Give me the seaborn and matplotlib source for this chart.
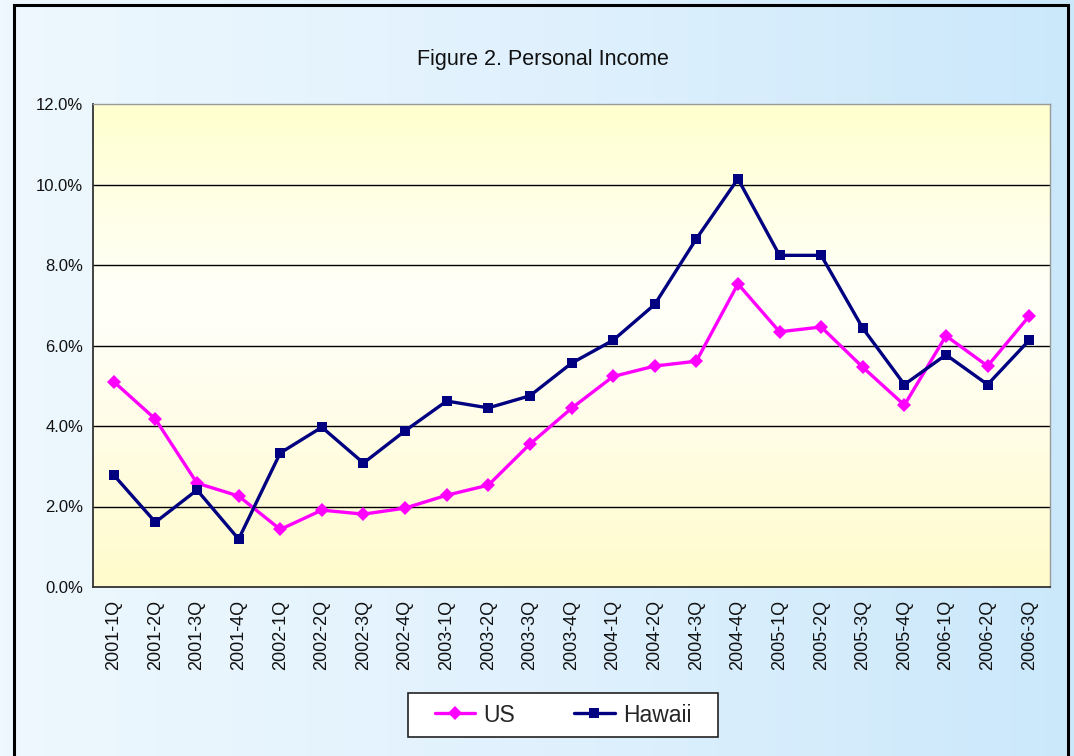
import numpy as np
import pandas as pd
import matplotlib
matplotlib.use("Agg")
import matplotlib.pyplot as plt
import seaborn as sns
from matplotlib.colors import LinearSegmentedColormap
from matplotlib.patches import Rectangle
from matplotlib.ticker import FixedLocator, FuncFormatter
from matplotlib.lines import Line2D

quarters = ["2001-1Q", "2001-2Q", "2001-3Q", "2001-4Q",
            "2002-1Q", "2002-2Q", "2002-3Q", "2002-4Q",
            "2003-1Q", "2003-2Q", "2003-3Q", "2003-4Q",
            "2004-1Q", "2004-2Q", "2004-3Q", "2004-4Q",
            "2005-1Q", "2005-2Q", "2005-3Q", "2005-4Q",
            "2006-1Q", "2006-2Q", "2006-3Q"]
us = [5.1, 4.17, 2.58, 2.26, 1.43, 1.91, 1.81, 1.96, 2.28, 2.53, 3.55, 4.44,
      5.23, 5.49, 5.61, 7.53, 6.34, 6.46, 5.46, 4.52, 6.24, 5.49, 6.73]
hawaii = [2.78, 1.61, 2.41, 1.19, 3.33, 3.97, 3.08, 3.88, 4.62, 4.45, 4.75, 5.56,
          6.13, 7.02, 8.65, 10.14, 8.24, 8.24, 6.43, 5.03, 5.77, 5.03, 6.13]
series_names = ["US", "Hawaii"]
yticks = [0, 2, 4, 6, 8, 10, 12]
title = "Figure 2. Personal Income"

df = pd.DataFrame({
    "idx": list(range(len(quarters))) * 2,
    "value": us + hawaii,
    "series": [series_names[0]] * len(us) + [series_names[1]] * len(hawaii),
})

sns.set_style("white")
plt.rcParams["font.family"] = ["Liberation Sans", "DejaVu Sans"]

W, H = 1074, 756
fig = plt.figure(figsize=(W / 100, H / 100), dpi=100)

# figure background gradient
bg = fig.add_axes([0, 0, 1, 1], zorder=-10)
bg_cmap = LinearSegmentedColormap.from_list("bg", ["#eef8fe", "#e0f1fd", "#cbe8fb"])
bg.imshow(np.linspace(0, 1, 256)[None, :], aspect="auto", cmap=bg_cmap,
          extent=[0, 1, 0, 1], transform=bg.transAxes)
bg.set_axis_off()
bg.add_patch(Rectangle((14 / W, -0.1), (1068 - 14) / W, (H - 5) / H + 0.1,
                       transform=bg.transAxes, fill=False, lw=2.2, ec="black"))
# legend box
bg.add_patch(Rectangle((408 / W, (H - 737) / H), (718 - 408) / W, 44 / H,
                       transform=bg.transAxes, fc="white", lw=1.2, ec="#222222"))

left, right, top, bottom = 93, 1050, 104, 587
ax = fig.add_axes([left / W, (H - bottom) / H, (right - left) / W, (bottom - top) / H])

# plot area gradient (yellow - white - yellow)
pa_cmap = LinearSegmentedColormap.from_list(
    "pa", [(0, "#fffbcc"), (0.55, "#fffff8"), (0.62, "#fffff8"), (1, "#ffffcf")])
ax.imshow(np.linspace(0, 1, 256)[:, None], aspect="auto", cmap=pa_cmap, origin="lower",
          extent=[0, 1, 0, 1], transform=ax.transAxes, zorder=0)

sns.lineplot(data=df, x="idx", y="value", hue="series", style="series",
             markers={"US": "D", "Hawaii": "s"}, dashes=False,
             palette={"US": "#ff00ff", "Hawaii": "#000080"},
             linewidth=2.4, markersize=7, markeredgewidth=0,
             ax=ax, zorder=3, legend=False)

ax.set_xlim(-0.5, len(quarters) - 0.5)
ax.set_ylim(0, 12)
for v in yticks[1:-1]:
    ax.axhline(v, color="black", lw=1.0, zorder=1)

ax.set_yticks(yticks)
ax.yaxis.set_major_formatter(FuncFormatter(lambda v, p: f"{v:.1f}%"))
ax.xaxis.set_major_locator(FixedLocator(np.arange(-0.5, len(quarters), 1.0)))
ax.xaxis.set_major_formatter(FuncFormatter(lambda v, p: ""))
ax.set_xticks(range(len(quarters)), minor=True)
ax.set_xticklabels(quarters, minor=True, rotation=90, fontsize=13, color="#111111")
ax.tick_params(axis="x", which="minor", length=0, pad=9)
ax.tick_params(axis="x", which="major", length=5, width=1, color="#333333", direction="out")
ax.tick_params(axis="y", length=5, width=1, color="#333333", labelsize=12, pad=2,
               labelcolor="#111111")
ax.set_xlabel("")
ax.set_ylabel("")
for s in ["left", "bottom"]:
    ax.spines[s].set_color("#333333")
    ax.spines[s].set_linewidth(1.3)
for s in ["top", "right"]:
    ax.spines[s].set_color("#999999")
    ax.spines[s].set_linewidth(1.0)
ax.spines["bottom"].set_zorder(5)

fig.text(543 / W, (H - 60) / H, title, ha="center", va="center", fontsize=15.5,
         color="#111111")

handles = [Line2D([], [], color="#ff00ff", lw=2.4, marker="D", ms=7, mew=0),
           Line2D([], [], color="#000080", lw=2.4, marker="s", ms=7, mew=0)]
leg = fig.legend(handles, series_names, loc="center", ncol=2,
                 bbox_to_anchor=(563 / W, (H - 715) / H), frameon=False,
                 handlelength=1.75, handletextpad=0.36, columnspacing=2.6,
                 borderpad=0, prop={"size": 16.5})

fig.savefig("out.png", dpi=100)
